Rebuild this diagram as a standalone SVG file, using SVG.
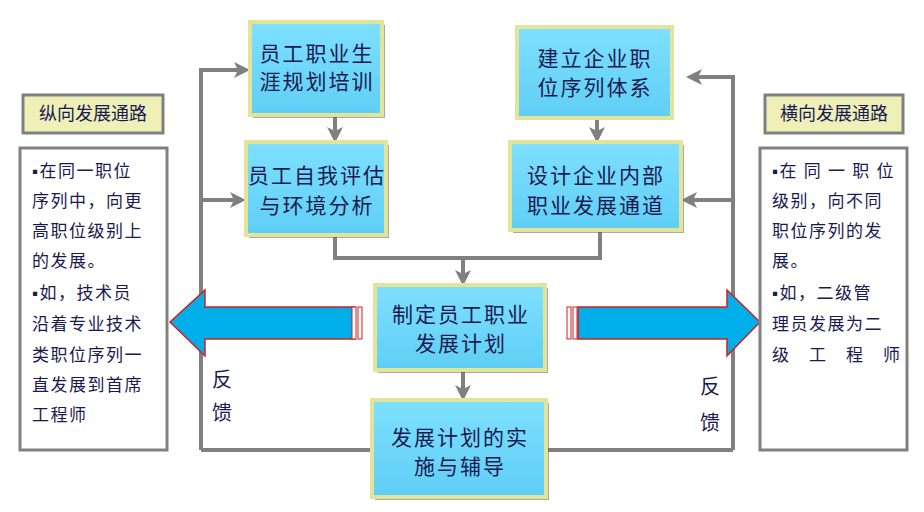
<svg xmlns="http://www.w3.org/2000/svg" width="924" height="512" viewBox="0 0 924 512">
<defs>
<linearGradient id="g" x1="0" y1="0" x2="0" y2="1"><stop offset="0" stop-color="#7ee0ff"/><stop offset="1" stop-color="#5fcef5"/></linearGradient>
<marker id="a" markerWidth="4" markerHeight="4" refX="3" refY="2" orient="auto" markerUnits="strokeWidth"><path d="M0,0 L4,2 L0,4 L1,2 z" fill="#808080"/></marker>
<style>
.box{fill:url(#g);stroke:#e3e39a;stroke-width:4}
.sh{fill:#555;opacity:.5}
.t{font-family:"Liberation Serif","Noto Sans CJK SC",serif;font-size:21px;fill:#1a1a50;text-anchor:middle;letter-spacing:2px}
.s{font-family:"Liberation Serif","Noto Sans CJK SC",serif;font-size:17px;fill:#1a1a50;letter-spacing:1.5px}
.c{fill:none;stroke:#808080;stroke-width:4}
.lbl{fill:#eef0b8;stroke:#808080;stroke-width:3}
.side{fill:#fff;stroke:#808080;stroke-width:3}
.arr{fill:#00aeea;stroke:#d02020;stroke-width:1.5}
</style>
</defs>
<rect width="924" height="512" fill="#fff"/>
<g id="connectors">
<path class="c" d="M201,450 V70 H246" marker-end="url(#a)"/>
<path class="c" d="M201,200 H242" marker-end="url(#a)"/>
<path class="c" d="M201,450 H372"/>
<path class="c" d="M733,450 V77 H690" marker-end="url(#a)"/>
<path class="c" d="M733,200 H685" marker-end="url(#a)"/>
<path class="c" d="M546,450 H733"/>
<path class="c" d="M335,115 V139" marker-end="url(#a)"/>
<path class="c" d="M597,118 V139" marker-end="url(#a)"/>
<path class="c" d="M335,235 V258 H600 V230"/>
<path class="c" d="M463,258 V282" marker-end="url(#a)"/>
<path class="c" d="M463,370 V397" marker-end="url(#a)"/>
</g>
<g id="leftArrow">
<path class="arr" d="M355,307 H205 V290 L170,322 L205,356 V339 H355 z"/>
<rect x="352" y="307" width="4" height="32" fill="#fff" stroke="#d02020" stroke-width="1"/>
<rect x="358" y="307" width="4" height="32" fill="#fff" stroke="#d02020" stroke-width="1"/>
</g>
<g id="rightArrow">
<path class="arr" d="M578,307 H727 V290 L760,322 L727,356 V339 H578 z"/>
<rect x="567" y="307" width="4" height="32" fill="#fff" stroke="#d02020" stroke-width="1"/>
<rect x="573" y="307" width="4" height="32" fill="#fff" stroke="#d02020" stroke-width="1"/>
</g>
<g id="n1"><rect class="sh" x="253" y="25" width="132" height="93"/><rect class="box" x="250" y="22" width="132" height="93"/><text class="t" x="317" y="61">员工职业生</text><text class="t" x="317" y="89">涯规划培训</text></g>
<g id="n2"><rect class="sh" x="249" y="145" width="140" height="93"/><rect class="box" x="246" y="142" width="140" height="93"/><text class="t" x="317" y="183">员工自我评估</text><text class="t" x="317" y="213">与环境分析</text></g>
<g id="n3"><rect class="box" x="517" y="27" width="155" height="91"/><text class="t" x="595" y="66">建立企业职</text><text class="t" x="595" y="95">位序列体系</text></g>
<g id="n4"><rect class="sh" x="513" y="145" width="171" height="88"/><rect class="box" x="510" y="142" width="171" height="88"/><text class="t" x="596" y="183">设计企业内部</text><text class="t" x="596" y="213">职业发展通道</text></g>
<g id="n5"><rect class="sh" x="378" y="288" width="170" height="85"/><rect class="box" x="375" y="285" width="170" height="85"/><text class="t" x="461" y="322">制定员工职业</text><text class="t" x="461" y="351">发展计划</text></g>
<g id="n6"><rect class="sh" x="375" y="403" width="174" height="97"/><rect class="box" x="372" y="400" width="174" height="97"/><text class="t" x="460" y="445">发展计划的实</text><text class="t" x="460" y="474">施与辅导</text></g>
<g id="leftLabel"><rect class="lbl" x="23" y="95" width="140" height="38"/><text class="s" x="93" y="120" text-anchor="middle" style="font-size:18px;letter-spacing:0">纵向发展通路</text></g>
<g id="leftText"><rect class="side" x="20" y="148" width="147" height="302"/>
<text class="s" x="32" y="177">▪在同一职位</text><text class="s" x="32" y="207">序列中，向更</text><text class="s" x="32" y="237">高职位级别上</text><text class="s" x="32" y="267">的发展。</text><text class="s" x="32" y="299">▪如，技术员</text><text class="s" x="32" y="330">沿着专业技术</text><text class="s" x="32" y="361">类职位序列一</text><text class="s" x="32" y="391">直发展到首席</text><text class="s" x="32" y="421">工程师</text></g>
<g id="rightLabel"><rect class="lbl" x="765" y="95" width="138" height="38"/><text class="s" x="834" y="120" text-anchor="middle" style="font-size:18px;letter-spacing:0">横向发展通路</text></g>
<g id="rightText"><rect class="side" x="760" y="148" width="147" height="302"/>
<text class="s" x="772" y="177">▪在 同 一 职 位</text><text class="s" x="772" y="207">级别，向不同</text><text class="s" x="772" y="237">职位序列的发</text><text class="s" x="772" y="267">展。</text><text class="s" x="772" y="299">▪如，二级管</text><text class="s" x="772" y="330">理员发展为二</text><text class="s" x="772" y="361">级　工　程　师</text></g>
<g id="feedback"><text class="s" x="212" y="387" style="font-size:20px">反</text><text class="s" x="212" y="420" style="font-size:20px">馈</text><text class="s" x="700" y="394" style="font-size:20px">反</text><text class="s" x="700" y="430" style="font-size:20px">馈</text></g>
</svg>
